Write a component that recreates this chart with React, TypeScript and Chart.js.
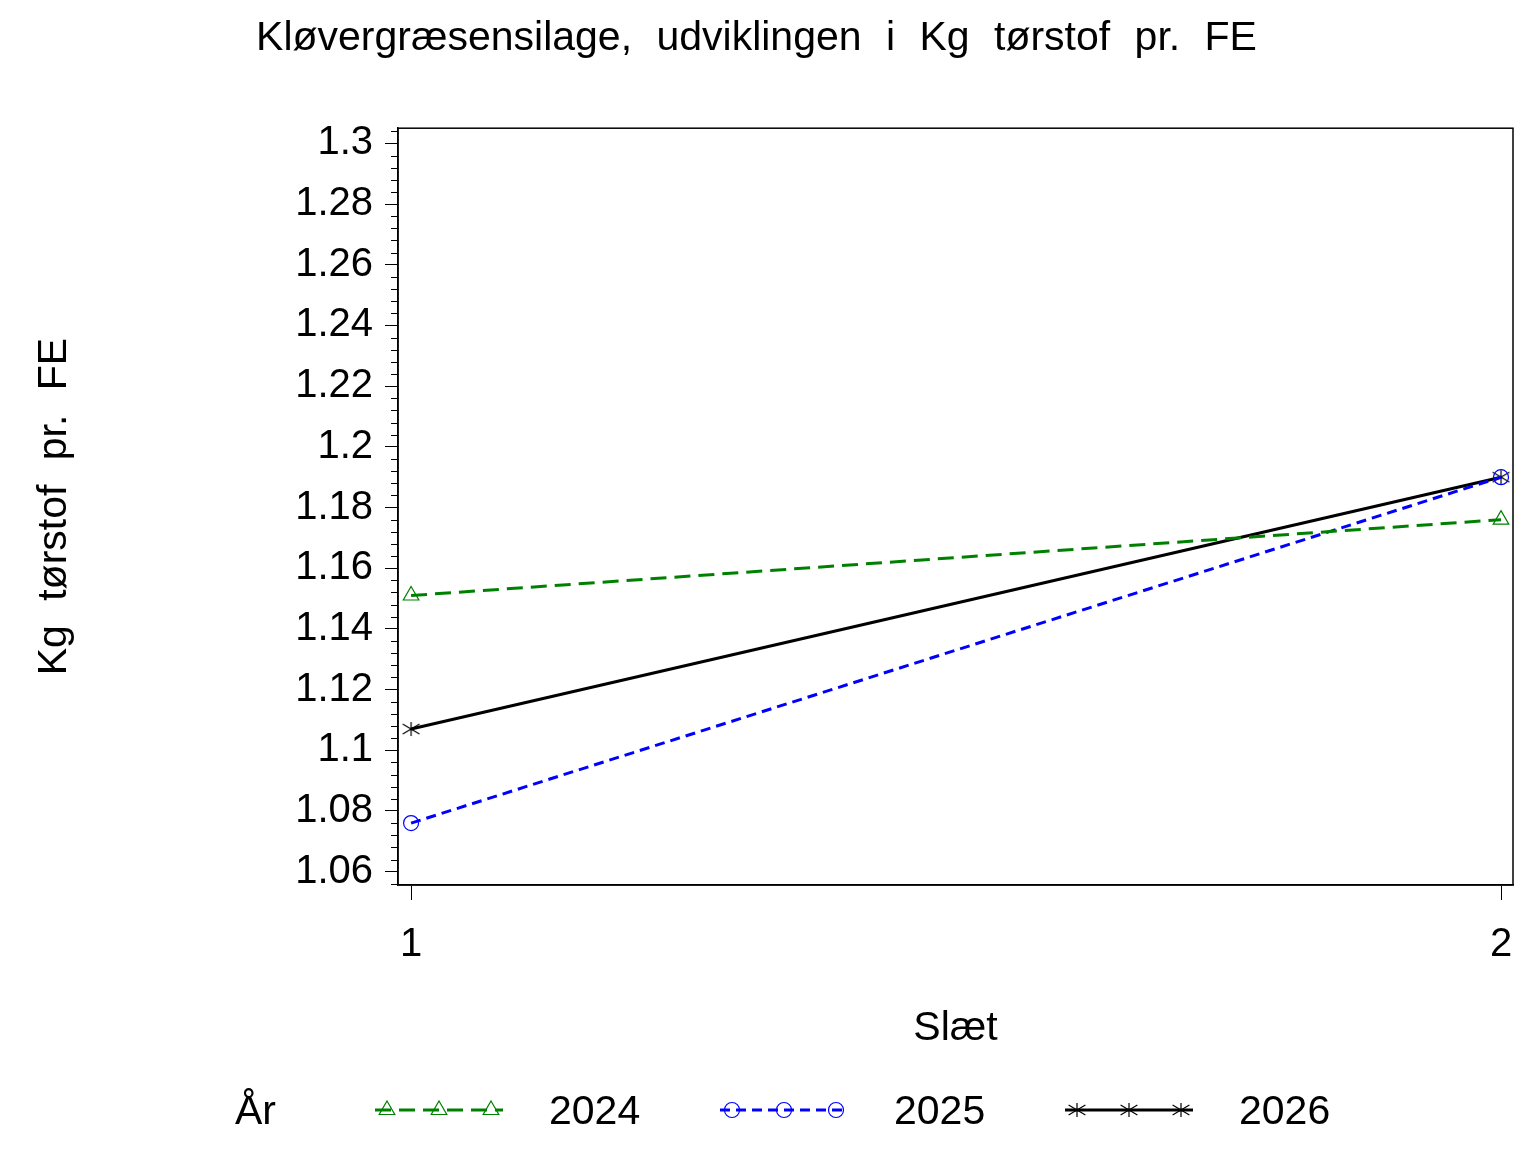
import React, { useEffect, useRef } from 'react';
import { Chart, registerables } from 'chart.js';

Chart.register(...registerables);

const chartTitle = 'Kløvergræsensilage, udviklingen i Kg tørstof pr. FE';
const xTitle = 'Slæt';
const yTitle = 'Kg tørstof pr. FE';
const legendTitle = 'År';

const slaet = [1, 2];
const years = ['2024', '2025', '2026'];
const values2024 = [1.151, 1.176];
const values2025 = [1.076, 1.19];
const values2026 = [1.107, 1.19];

const yTicks = [1.06, 1.08, 1.1, 1.12, 1.14, 1.16, 1.18, 1.2, 1.22, 1.24, 1.26, 1.28, 1.3];
const xTicks = [1, 2];

const FONT = '"Liberation Sans", Arial, Helvetica, sans-serif';
const GREEN = '#008000';
const BLUE = '#0000ff';
const BLACK = '#000000';

// six armed asterisk like the SAS marker
function asteriskCanvas(color: string) {
   const c = document.createElement('canvas');
   c.width = 24;
   c.height = 24;
   const g = c.getContext('2d');
   if (g) {
      g.strokeStyle = color;
      g.lineWidth = 1.2;
      const m = 12;
      g.beginPath();
      g.moveTo(m, m - 7);
      g.lineTo(m, m + 7);
      g.moveTo(m - 8.4, m - 4.9);
      g.lineTo(m + 8.4, m + 4.9);
      g.moveTo(m - 8.4, m + 4.9);
      g.lineTo(m + 8.4, m - 4.9);
      g.stroke();
   }
   return c;
}

const wordSpacing = {
   id: 'wordSpacing',
   beforeDraw(chart: any) {
      chart.ctx.wordSpacing = '13px';
   },
};

// box round the plot and the short minor ticks on the y axis
const frame = {
   id: 'frame',
   afterDraw(chart: any) {
      const { ctx, chartArea } = chart;
      const y = chart.scales.y;
      ctx.save();
      ctx.strokeStyle = '#000';
      ctx.lineWidth = 1.5;
      ctx.strokeRect(chartArea.left, chartArea.top, chartArea.right - chartArea.left, chartArea.bottom - chartArea.top);
      ctx.lineWidth = 1;
      ctx.beginPath();
      for (let k = 0; k < 70; k++) {
         const v = 1.056 + k * 0.004;
         if (v > y.max + 1e-9) break;
         if (k % 5 === 1) continue; // major
         const py = Math.round(y.getPixelForValue(v)) + 0.5;
         ctx.moveTo(chartArea.left - 7, py);
         ctx.lineTo(chartArea.left, py);
      }
      ctx.stroke();
      ctx.restore();
   },
};

const fmt = (v: number) => String(Number(v.toFixed(3)));

function Marker({ kind, cx, cy }: { kind: string; cx: number; cy: number }) {
   if (kind === 'triangle') {
      const r = 9;
      const pts = [
         [cx, cy - r],
         [cx + r * 0.866, cy + r * 0.5],
         [cx - r * 0.866, cy + r * 0.5],
      ]
         .map((p) => p.join(','))
         .join(' ');
      return <polygon points={pts} fill='none' stroke={GREEN} strokeWidth={1.2} />;
   }
   if (kind === 'circle') {
      return <circle cx={cx} cy={cy} r={7.5} fill='none' stroke={BLUE} strokeWidth={1.2} />;
   }
   return (
      <path
         d={`M${cx} ${cy - 7}L${cx} ${cy + 7}M${cx - 8.4} ${cy - 4.9}L${cx + 8.4} ${cy + 4.9}M${cx - 8.4} ${cy + 4.9}L${cx + 8.4} ${cy - 4.9}`}
         stroke={BLACK}
         strokeWidth={1.2}
         fill='none'
      />
   );
}

const legendStyles = [
   { color: GREEN, dash: '16 8', marker: 'triangle' },
   { color: BLUE, dash: '10 6', marker: 'circle' },
   { color: BLACK, dash: '', marker: 'star' },
];

const App = () => {
   const canvasRef = useRef<HTMLCanvasElement | null>(null);

   useEffect(() => {
      if (!canvasRef.current) return;
      const star = asteriskCanvas(BLACK);

      const chart = new Chart(canvasRef.current, {
         type: 'line',
         data: {
            datasets: [
               {
                  label: years[0],
                  data: slaet.map((x, i) => ({ x, y: values2024[i] })),
                  borderColor: GREEN,
                  borderWidth: 3,
                  borderDash: [16, 8],
                  pointStyle: 'triangle',
                  pointRadius: 9,
                  pointBorderWidth: 1.2,
                  pointBorderColor: GREEN,
                  pointBackgroundColor: 'rgba(0,0,0,0)',
                  tension: 0,
               },
               {
                  label: years[1],
                  data: slaet.map((x, i) => ({ x, y: values2025[i] })),
                  borderColor: BLUE,
                  borderWidth: 3,
                  borderDash: [10, 6],
                  pointStyle: 'circle',
                  pointRadius: 7.5,
                  pointBorderWidth: 1.2,
                  pointBorderColor: BLUE,
                  pointBackgroundColor: 'rgba(0,0,0,0)',
                  tension: 0,
               },
               {
                  label: years[2],
                  data: slaet.map((x, i) => ({ x, y: values2026[i] })),
                  borderColor: BLACK,
                  borderWidth: 3,
                  pointStyle: star as any,
                  pointRadius: 9,
                  tension: 0,
               },
            ],
         },
         options: {
            responsive: false,
            animation: false,
            devicePixelRatio: 1,
            layout: { padding: { left: 0, right: 23, top: 0, bottom: 87 } },
            plugins: {
               legend: { display: false },
               tooltip: { enabled: false },
               title: {
                  display: true,
                  text: chartTitle,
                  color: '#000',
                  font: { family: FONT, size: 41, weight: 'normal' },
                  padding: { top: 14, bottom: 65 },
               },
            },
            scales: {
               x: {
                  type: 'linear',
                  min: 0.988,
                  max: 2.011,
                  afterBuildTicks: (scale: any) => {
                     scale.ticks = xTicks.map((v) => ({ value: v }));
                  },
                  afterFit: (scale: any) => {
                     scale.height = 180;
                  },
                  grid: { drawOnChartArea: false, tickLength: 15, color: '#000', tickWidth: 1 },
                  border: { display: true, color: '#000', width: 1.5 },
                  ticks: {
                     color: '#000',
                     padding: 21,
                     font: { family: FONT, size: 40 },
                     callback: (v: any) => fmt(Number(v)),
                  },
                  title: {
                     display: true,
                     text: xTitle,
                     color: '#000',
                     font: { family: FONT, size: 41 },
                     padding: { top: 0, bottom: 12 },
                  },
               },
               y: {
                  type: 'linear',
                  min: 1.0556,
                  max: 1.305,
                  afterBuildTicks: (scale: any) => {
                     scale.ticks = yTicks.map((v) => ({ value: v }));
                  },
                  afterFit: (scale: any) => {
                     scale.width = 398;
                  },
                  grid: { drawOnChartArea: false, tickLength: 13, color: '#000', tickWidth: 1 },
                  border: { display: true, color: '#000', width: 1.5 },
                  ticks: {
                     color: '#000',
                     padding: 12,
                     font: { family: FONT, size: 40 },
                     callback: (v: any) => fmt(Number(v)),
                  },
                  title: {
                     display: true,
                     text: yTitle,
                     color: '#000',
                     font: { family: FONT, size: 41 },
                     padding: { top: 30, bottom: 0 },
                  },
               },
            },
         },
         plugins: [wordSpacing, frame],
      });

      return () => {
         chart.destroy();
      };
   }, []);

   return (
      <div style={{ position: 'absolute', left: 0, top: 0, width: 1536, height: 1152, background: '#fff' }}>
         <canvas ref={canvasRef} width={1536} height={1152} style={{ display: 'block' }} />
         <div
            style={{
               position: 'absolute',
               left: 235,
               top: 1085,
               height: 50,
               display: 'flex',
               alignItems: 'center',
               fontFamily: FONT,
               fontSize: 41,
               color: '#000',
            }}
         >
            <span style={{ width: 140 }}>{legendTitle}</span>
            {years.map((yr, i) => {
               const st = legendStyles[i];
               return (
                  <div key={yr} style={{ display: 'flex', alignItems: 'center', width: 345 }}>
                     <svg width={130} height={30} style={{ display: 'block' }}>
                        <line
                           x1={0}
                           y1={15}
                           x2={128}
                           y2={15}
                           stroke={st.color}
                           strokeWidth={3}
                           strokeDasharray={st.dash || undefined}
                        />
                        {[12, 64, 116].map((mx) => (
                           <Marker key={mx} kind={st.marker} cx={mx} cy={15} />
                        ))}
                     </svg>
                     <span style={{ marginLeft: 44 }}>{yr}</span>
                  </div>
               );
            })}
         </div>
      </div>
   );
};

export default App;
